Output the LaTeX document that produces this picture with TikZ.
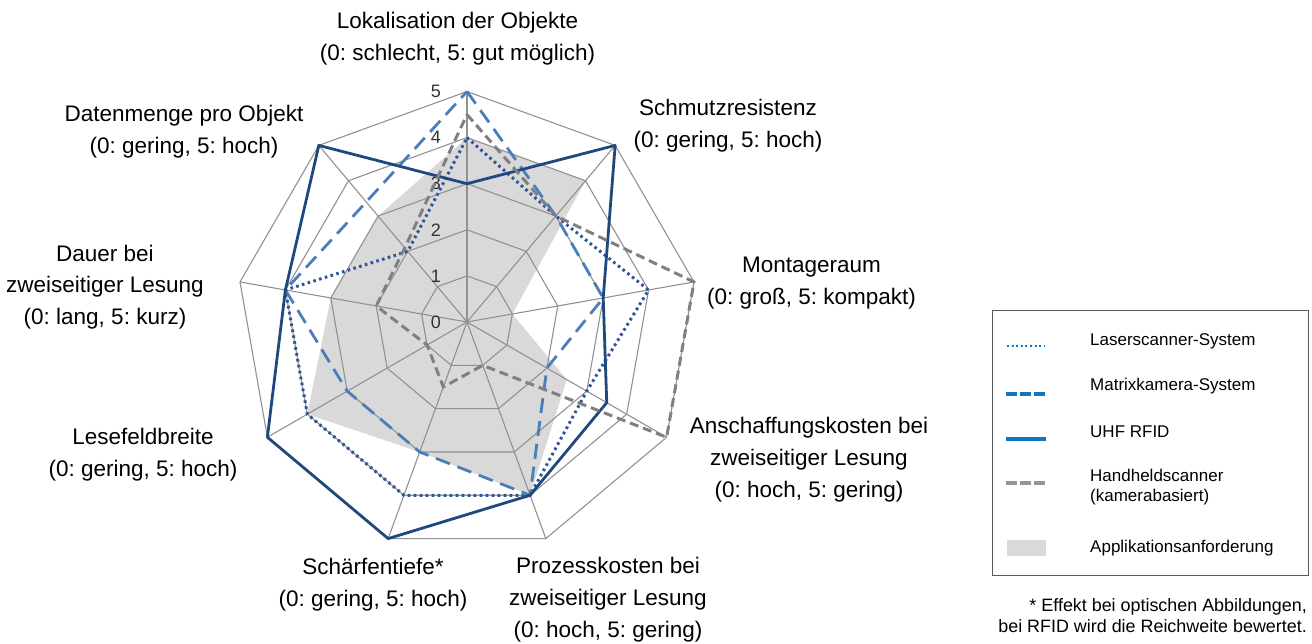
\documentclass[tikz,border=0pt]{standalone}
\usepackage{fontspec}
\setmainfont{Liberation Sans}
\usetikzlibrary{positioning}
\frenchspacing

\definecolor{webgray}{RGB}{145,145,145}
\definecolor{anfgray}{RGB}{217,217,217}
\definecolor{laserblue}{RGB}{46,84,150}
\definecolor{mkamblue}{RGB}{74,126,187}
\definecolor{rfidblue}{RGB}{31,73,125}
\definecolor{handgray}{RGB}{128,128,128}
\definecolor{legblue}{RGB}{16,118,190}
\definecolor{leggray}{RGB}{150,150,150}
\definecolor{frame}{RGB}{90,90,90}

% one unit on the radar scale
\newcommand{\ru}{46.1}
% series: name, style, nine values (clockwise from the top)
\newcommand{\radarseries}[3]{%
  \foreach \val [count=\idx] in {#3}
    \coordinate (#1-\idx) at ({130-40*\idx}:{\val*\ru});
  \path[#2] (#1-1) -- (#1-2) -- (#1-3) -- (#1-4) -- (#1-5) -- (#1-6)
            -- (#1-7) -- (#1-8) -- (#1-9) -- cycle;
}

\begin{document}
\begin{tikzpicture}[
    x=1pt, y=1pt,
    font=\fontsize{22.5}{31.8}\selectfont,
    web/.style      = {draw=webgray, line width=1.1pt},
    anf/.style      = {fill=anfgray},
    laser/.style    = {draw=laserblue, line width=3pt, dash pattern=on 2.6pt off 3.4pt},
    mkam/.style     = {draw=mkamblue, line width=2.8pt, dash pattern=on 15pt off 8pt},
    rfid/.style     = {draw=rfidblue, line width=2.8pt, line join=round},
    hand/.style     = {draw=handgray, line width=3pt, dash pattern=on 9pt off 5pt},
    axlbl/.style    = {align=center, inner sep=0pt},
    scalelbl/.style = {font=\fontsize{18}{18}\selectfont, text=black!80, inner sep=0pt},
    legtxt/.style   = {anchor=west, align=left, inner sep=0pt,
                       font=\fontsize{17}{20}\selectfont},
]
\useasboundingbox (0,0) rectangle (1312,644);

%% ── Radar ────────────────────────────────────────────────────────────────
\begin{scope}[shift={(467,322)}]
  \radarseries{anf}{anf}{4,4,1,2.5,4,3,4,3,3}

  \foreach \a in {90,50,...,-230}
    \draw[web] (0,0) -- (\a:{5*\ru});
  \foreach \r in {1,...,5}
    \draw[web] (90:{\r*\ru}) \foreach \a in {50,10,...,-230} { -- (\a:{\r*\ru}) } -- cycle;

  \foreach \s in {0,...,5}
    \node[scalelbl] (scale\s) at (-31,{\s*\ru}) {\s};

  \radarseries{laser}{laser}{4,3,4,3,4,4,4,4,2}
  \radarseries{mkam}{mkam}{5,3,3,2,4,3,3,4,3.4}
  \radarseries{rfid}{rfid}{3,5,3,3.5,4,5,5,4,5}
  \radarseries{hand}{hand}{4.5,3,5,5,1,1.5,1,2,2.1}
\end{scope}

%% ── Axis labels ──────────────────────────────────────────────────────────
\node[axlbl] (lokal)    at (457.5,605.5) {Lokalisation der Objekte\\(0: schlecht, 5: gut möglich)};
\node[axlbl] (schmutz)  at (728,518.5) {Schmutzresistenz\\(0: gering, 5: hoch)};
\node[axlbl] (montage)  at (811.5,360.5) {Montageraum\\(0: groß, 5: kompakt)};
\node[axlbl] (anschaff) at (809,184.5) {Anschaffungskosten bei\\zweiseitiger Lesung\\(0: hoch, 5: gering)};
\node[axlbl] (prozess)  at (608,44.5) {Prozesskosten bei\\zweiseitiger Lesung\\(0: hoch, 5: gering)};
\node[axlbl] (schaerfe) at (373,59) {Schärfentiefe*\\(0: gering, 5: hoch)};
\node[axlbl] (lesefeld) at (143,189) {Lesefeldbreite\\(0: gering, 5: hoch)};
\node[axlbl] (dauer)    at (105,357) {Dauer bei\\zweiseitiger Lesung\\(0: lang, 5: kurz)};
\node[axlbl] (daten)    at (184,512) {Datenmenge pro Objekt\\(0: gering, 5: hoch)};

%% ── Legend ───────────────────────────────────────────────────────────────
\node[draw=frame, line width=1.2pt, minimum width=316, minimum height=265,
      anchor=south west, inner sep=0pt] (legbox) at (992,68) {};

\draw[legblue, line width=2.2pt, dash pattern=on 2pt off 2.6pt] (1007,298) -- (1045,298);
\node[legtxt] (lg1) at (1090,303) {Laserscanner-System};

\draw[legblue, line width=4pt, dash pattern=on 11pt off 3pt] (1006,250) -- (1046,250);
\node[legtxt] (lg2) at (1090,258) {Matrixkamera-System};

\draw[legblue, line width=4pt] (1006,205) -- (1046,205);
\node[legtxt] (lg3) at (1090,212) {UHF RFID};

\draw[leggray, line width=4pt, dash pattern=on 11pt off 3pt] (1006,161) -- (1046,161);
\node[legtxt] (lg4) at (1090,157) {Handheldscanner\\(kamerabasiert)};

\fill[anfgray] (1007,88) rectangle (1046,104);
\node[legtxt] (lg5) at (1090,96) {Applikationsanforderung};

%% ── Footnote ─────────────────────────────────────────────────────────────
\node[anchor=east, align=right, inner sep=0pt, font=\fontsize{17.9}{21}\selectfont]
  (fussnote) at (1307,28.5)
  {* Effekt bei optischen Abbildungen,\\bei RFID wird die Reichweite bewertet.};

\end{tikzpicture}
\end{document}
